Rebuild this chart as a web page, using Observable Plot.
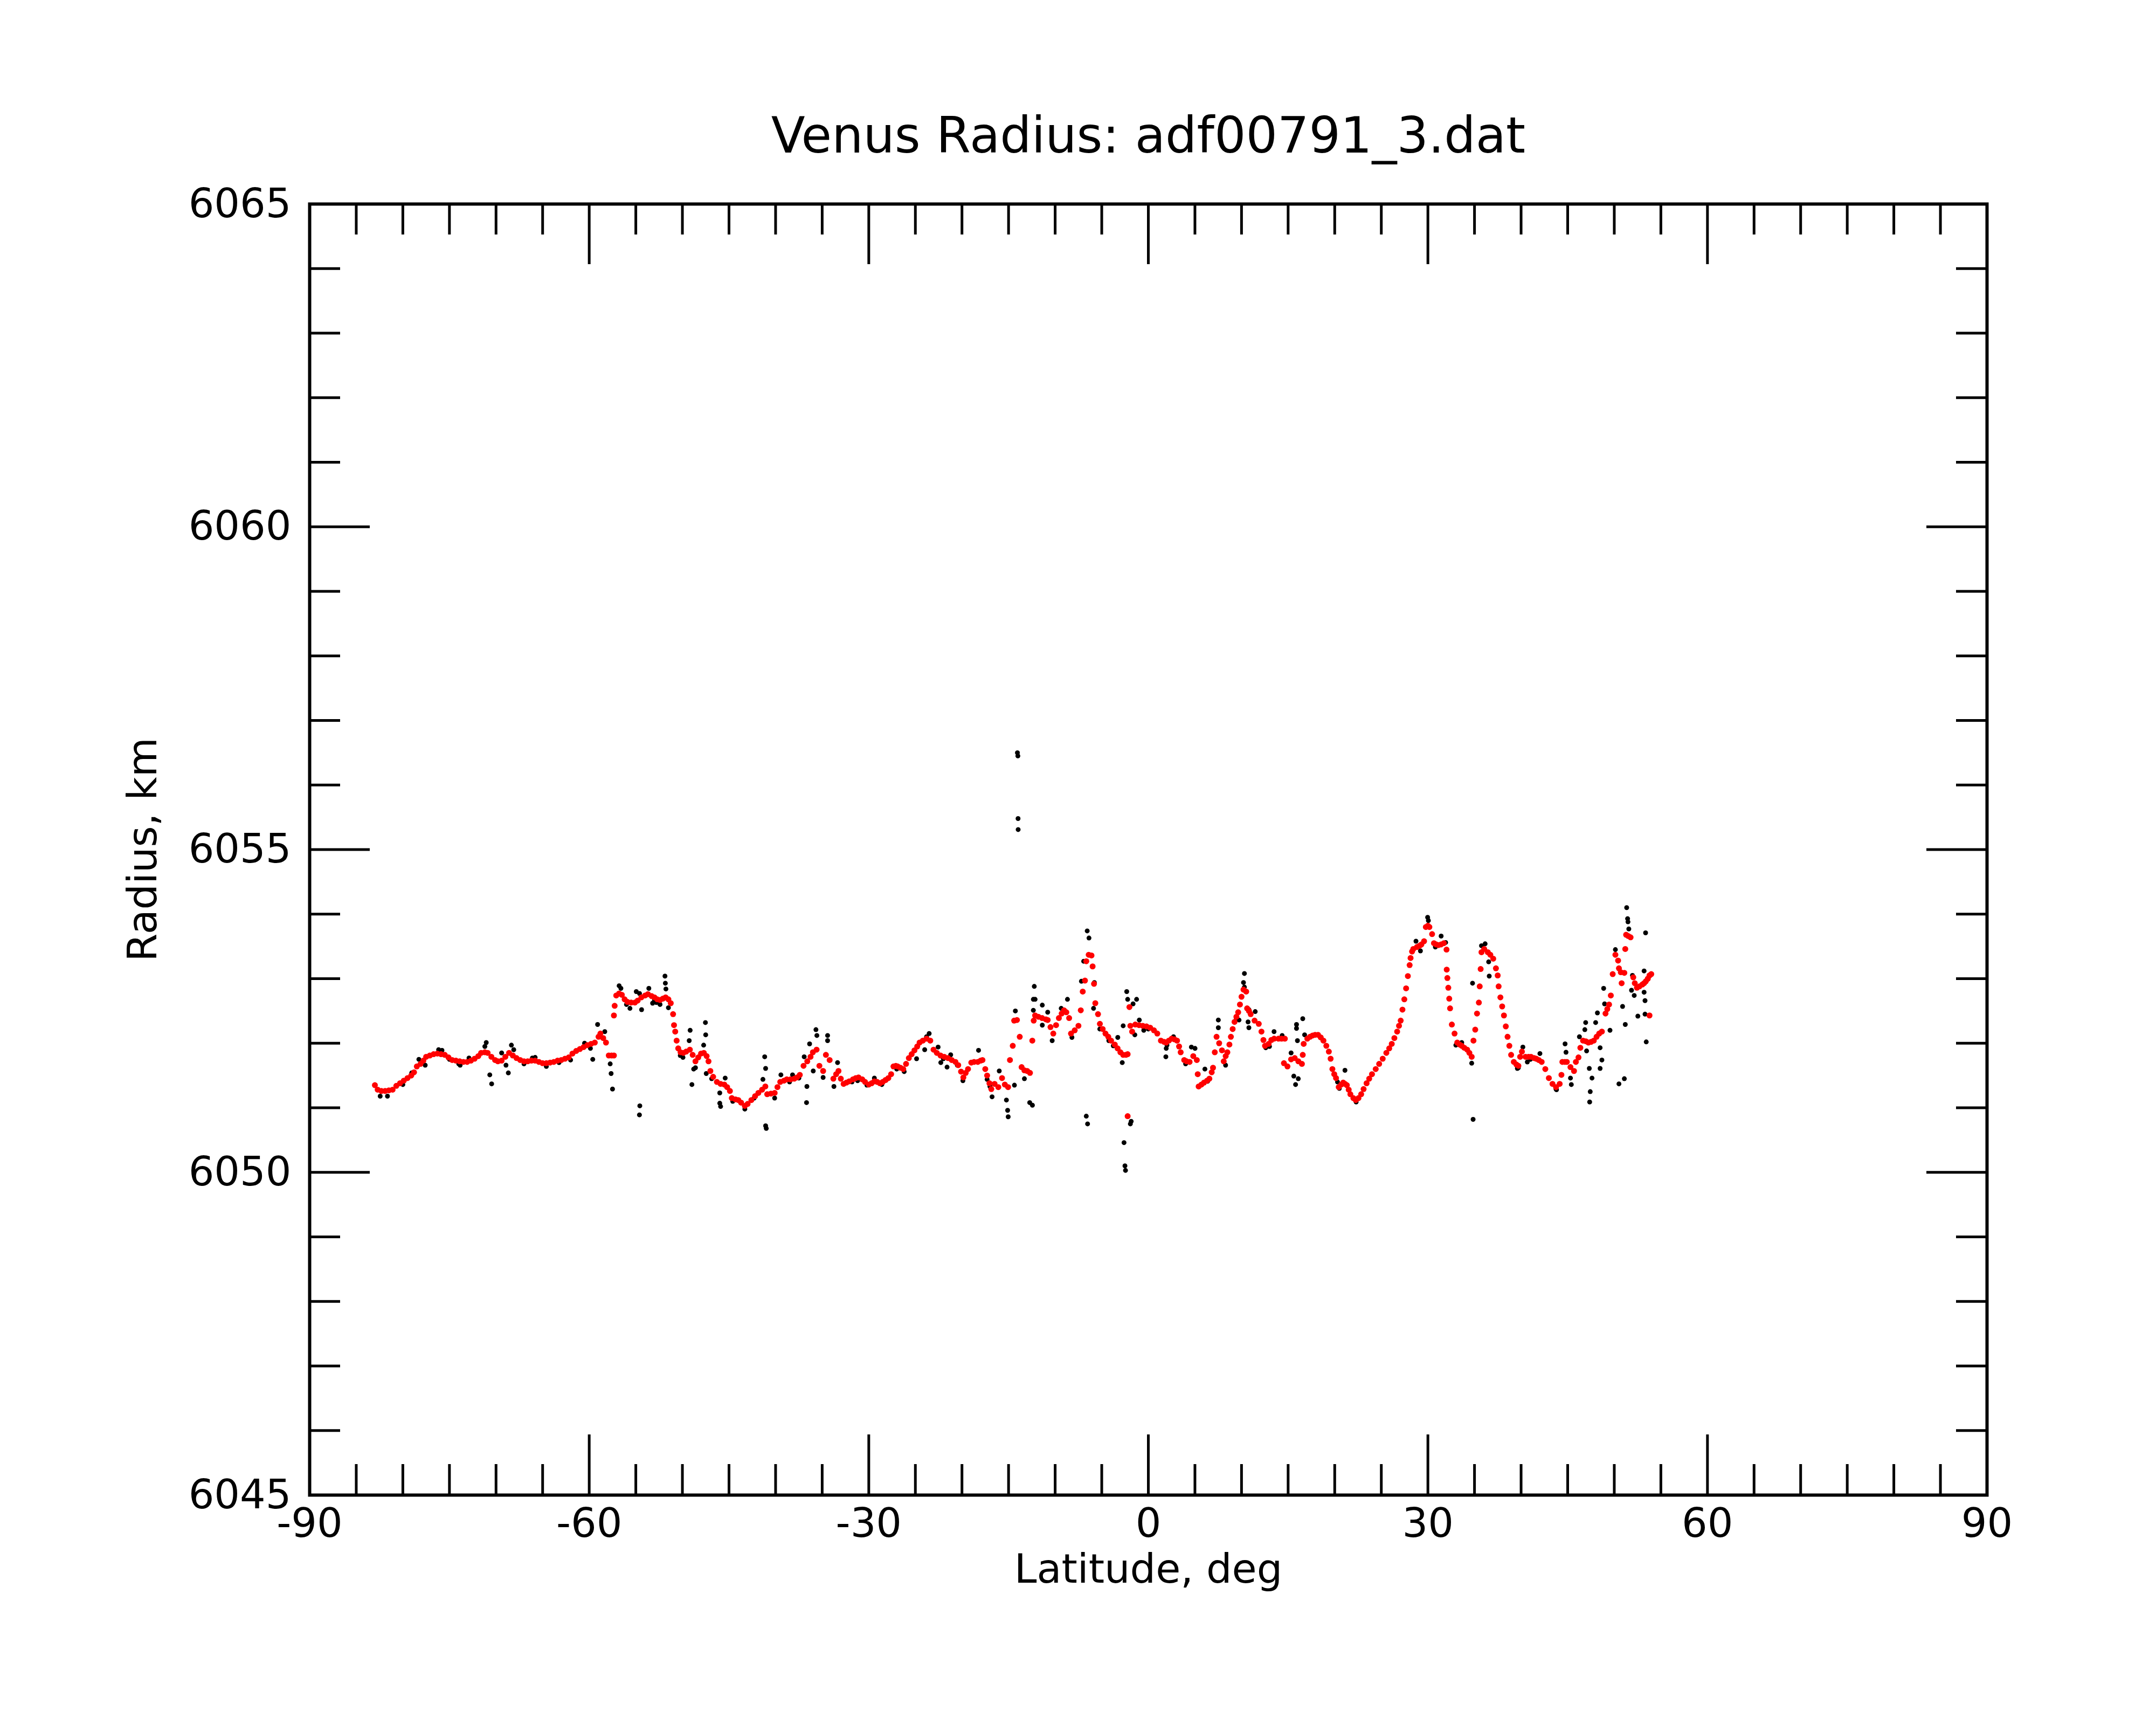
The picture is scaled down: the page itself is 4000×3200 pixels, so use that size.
<!DOCTYPE html>
<html>
<head>
<meta charset="utf-8">
<script src="https://cdn.jsdelivr.net/npm/d3@7"></script>
<script src="https://cdn.jsdelivr.net/npm/@observablehq/plot@0.6"></script>
<style>
  html, body { margin: 0; padding: 0; background: #ffffff; }
  #chart { width: 4000px; height: 3200px; }
</style>
</head>
<body>
<div id="chart"></div>
<script>
// ---- Data: [latitude (deg), radius (km)] ----
const titleText = "Venus Radius: adf00791_3.dat";
const xLabelText = "Latitude, deg";
const yLabelText = "Radius, km";

const xMajorTicks = [-90, -60, -30, 0, 30, 60, 90];
const xMinorTicks = [-85,-80,-75,-70,-65,-55,-50,-45,-40,-35,-25,-20,-15,-10,-5,5,10,15,20,25,35,40,45,50,55,65,70,75,80,85];
const yMajorTicks = [6045, 6050, 6055, 6060, 6065];
const yMinorTicks = [6046,6047,6048,6049,6051,6052,6053,6054,6056,6057,6058,6059,6061,6062,6063,6064];

// smoothed profile (red)
const redPoints = [
[-83.0,6051.35],[-82.7,6051.28],[-82.3,6051.26],[-81.9,6051.26],[-81.5,6051.27],[-81.1,6051.28],[-80.7,6051.34],[-80.3,6051.38],
[-79.9,6051.42],[-79.5,6051.46],[-79.1,6051.50],[-78.8,6051.55],[-78.5,6051.64],[-78.1,6051.68],[-77.8,6051.73],[-77.5,6051.79],
[-77.1,6051.81],[-76.7,6051.83],[-76.3,6051.84],[-75.9,6051.83],[-75.5,6051.82],[-75.1,6051.78],[-74.7,6051.74],[-74.3,6051.73],
[-73.9,6051.72],[-73.5,6051.71],[-73.1,6051.71],[-72.7,6051.73],[-72.3,6051.76],[-71.9,6051.80],[-71.6,6051.85],[-71.2,6051.86],
[-70.9,6051.85],[-70.5,6051.79],[-70.1,6051.74],[-69.8,6051.72],[-69.4,6051.73],[-69.0,6051.79],[-68.6,6051.85],[-68.2,6051.81],
[-67.8,6051.77],[-67.4,6051.74],[-67.0,6051.72],[-66.6,6051.72],[-66.2,6051.73],[-65.8,6051.73],[-65.4,6051.71],[-65.0,6051.69],
[-64.6,6051.69],[-64.2,6051.70],[-63.8,6051.71],[-63.4,6051.73],[-63.0,6051.74],[-62.6,6051.76],[-62.2,6051.78],[-61.8,6051.84],
[-61.4,6051.88],[-61.0,6051.91],[-60.6,6051.94],[-60.2,6051.97],[-59.8,6051.99],[-59.4,6052.01],[-59.0,6052.10],[-58.8,6052.15],
[-58.5,6052.08],[-58.2,6052.01],[-57.9,6051.81],[-57.6,6051.81],[-57.35,6051.81],[-57.35,6052.43],[-57.27,6052.58],[-57.1,6052.74],
[-56.8,6052.77],[-56.5,6052.75],[-56.2,6052.68],[-55.9,6052.64],[-55.5,6052.63],[-55.1,6052.63],[-54.8,6052.66],[-54.4,6052.71],
[-54.0,6052.74],[-53.7,6052.76],[-53.3,6052.73],[-53.0,6052.71],[-52.7,6052.68],[-52.4,6052.67],[-52.1,6052.69],[-51.8,6052.71],
[-51.5,6052.68],[-51.25,6052.62],[-51.0,6052.45],[-50.9,6052.28],[-50.77,6052.18],[-50.62,6052.04],[-50.45,6051.92],[-50.2,6051.86],
[-49.9,6051.85],[-49.6,6051.87],[-49.2,6051.90],[-48.9,6051.82],[-48.6,6051.72],[-48.3,6051.78],[-48.0,6051.84],[-47.7,6051.85],
[-47.4,6051.80],[-47.2,6051.72],[-47.0,6051.57],[-46.7,6051.48],[-46.3,6051.40],[-45.9,6051.37],[-45.5,6051.36],[-45.2,6051.32],
[-44.9,6051.26],[-44.7,6051.15],[-44.3,6051.13],[-44.0,6051.12],[-43.7,6051.08],[-43.3,6051.03],[-43.0,6051.06],[-42.6,6051.12],
[-42.2,6051.18],[-41.85,6051.23],[-41.45,6051.28],[-41.1,6051.33],[-40.9,6051.21],[-40.5,6051.22],[-40.1,6051.23],[-39.8,6051.32],
[-39.5,6051.40],[-39.1,6051.42],[-38.8,6051.44],[-38.4,6051.44],[-38.0,6051.45],[-37.7,6051.47],[-37.4,6051.51],[-37.0,6051.65],
[-36.6,6051.72],[-36.25,6051.79],[-36.0,6051.86],[-35.6,6051.90],[-35.3,6051.65],[-34.9,6051.57],[-34.6,6051.82],[-34.2,6051.74],
[-33.8,6051.45],[-33.5,6051.52],[-33.25,6051.57],[-33.0,6051.45],[-32.7,6051.37],[-32.4,6051.39],[-32.1,6051.41],[-31.7,6051.44],
[-31.4,6051.46],[-31.1,6051.47],[-30.7,6051.44],[-30.4,6051.40],[-30.0,6051.36],[-29.7,6051.38],[-29.4,6051.41],[-29.1,6051.40],
[-28.8,6051.38],[-28.5,6051.40],[-28.2,6051.43],[-27.9,6051.46],[-27.6,6051.52],[-27.35,6051.64],[-27.1,6051.65],[-26.9,6051.64],
[-26.6,6051.62],[-26.3,6051.60],[-26.0,6051.68],[-25.7,6051.77],[-25.4,6051.83],[-25.1,6051.89],[-24.8,6051.95],[-24.55,6052.01],
[-24.2,6052.04],[-23.8,6052.07],[-23.4,6052.04],[-23.05,6051.90],[-22.7,6051.85],[-22.3,6051.81],[-21.9,6051.79],[-21.5,6051.77],
[-21.1,6051.74],[-20.7,6051.71],[-20.4,6051.66],[-20.1,6051.56],[-19.85,6051.47],[-19.6,6051.54],[-19.35,6051.60],[-19.0,6051.70],
[-18.7,6051.71],[-18.3,6051.71],[-18.0,6051.73],[-17.8,6051.74],[-17.5,6051.60],[-17.3,6051.50],[-17.05,6051.38],[-16.85,6051.29],
[-16.5,6051.37],[-16.1,6051.32],[-15.7,6051.46],[-15.4,6051.36],[-15.05,6051.32],[-14.85,6051.74],[-14.55,6051.96],[-14.4,6052.35],
[-14.1,6052.36],[-13.8,6052.10],[-13.6,6051.63],[-13.3,6051.58],[-13.0,6051.57],[-12.7,6051.54],[-12.45,6052.04],[-12.3,6052.35],
[-12.15,6052.43],[-11.8,6052.41],[-11.4,6052.39],[-11.0,6052.37],[-10.8,6052.36],[-10.5,6052.25],[-10.2,6052.15],[-9.9,6052.28],
[-9.6,6052.39],[-9.3,6052.46],[-9.05,6052.51],[-8.8,6052.48],[-8.5,6052.39],[-8.3,6052.15],[-7.9,6052.20],[-7.5,6052.27],
[-7.25,6052.51],[-7.04,6052.80],[-6.8,6052.97],[-6.66,6053.27],[-6.4,6053.37],[-6.1,6053.36],[-5.98,6053.19],[-5.83,6052.92],
[-5.69,6052.62],[-5.4,6052.45],[-5.2,6052.30],[-4.9,6052.22],[-4.6,6052.15],[-4.3,6052.10],[-4.0,6052.04],[-3.6,6051.98],
[-3.3,6051.92],[-3.0,6051.86],[-2.7,6051.82],[-2.4,6051.82],[-2.22,6051.83],[-2.22,6050.87],[-2.03,6052.56],[-1.93,6052.27],
[-1.74,6052.18],[-1.4,6052.29],[-1.0,6052.28],[-0.6,6052.27],[-0.2,6052.26],[0.2,6052.24],[0.6,6052.20],[0.96,6052.15],
[1.35,6052.04],[1.7,6052.02],[1.92,6052.01],[2.2,6052.04],[2.5,6052.07],[2.8,6052.06],[3.08,6052.04],[3.3,6051.95],
[3.47,6051.86],[3.85,6051.74],[4.1,6051.72],[4.43,6051.71],[4.82,6051.80],[5.2,6051.74],[5.3,6051.52],[5.4,6051.33],
[5.7,6051.36],[5.97,6051.39],[6.3,6051.42],[6.55,6051.45],[6.8,6051.55],[6.94,6051.62],[7.13,6051.86],[7.32,6052.10],
[7.6,6052.00],[7.9,6051.89],[8.09,6051.72],[8.3,6051.80],[8.48,6051.86],[8.7,6051.98],[8.86,6052.10],[9.05,6052.22],
[9.25,6052.33],[9.45,6052.41],[9.64,6052.48],[9.83,6052.60],[10.0,6052.72],[10.21,6052.83],[10.5,6052.80],[10.6,6052.54],
[10.8,6052.50],[10.98,6052.45],[11.4,6052.35],[11.85,6052.30],[12.14,6052.18],[12.35,6052.05],[12.52,6051.96],[12.91,6051.99],
[13.2,6052.05],[13.5,6052.07],[13.97,6052.07],[14.3,6052.07],[14.65,6052.07],[14.55,6051.69],[14.93,6051.64],[15.32,6051.75],
[15.71,6051.77],[16.1,6051.72],[16.48,6051.68],[16.57,6051.82],[16.67,6051.99],[17.06,6052.07],[17.35,6052.10],[17.63,6052.12],
[17.9,6052.13],[18.21,6052.13],[18.5,6052.09],[18.79,6052.04],[19.1,6051.96],[19.37,6051.87],[19.56,6051.76],[19.75,6051.60],
[19.95,6051.52],[20.14,6051.46],[20.43,6051.32],[20.7,6051.36],[20.91,6051.39],[21.1,6051.37],[21.3,6051.35],[21.5,6051.28],
[21.68,6051.21],[22.0,6051.15],[22.26,6051.12],[22.55,6051.15],[22.84,6051.21],[23.1,6051.29],[23.42,6051.38],[23.7,6051.45],
[24.0,6051.52],[24.4,6051.60],[24.77,6051.68],[25.15,6051.76],[25.54,6051.85],[25.85,6051.92],[26.12,6051.99],[26.4,6052.08],
[26.7,6052.18],[26.9,6052.27],[27.08,6052.35],[27.27,6052.52],[27.47,6052.68],[27.66,6052.85],[27.85,6053.04],[28.04,6053.21],
[28.14,6053.32],[28.3,6053.42],[28.43,6053.46],[28.82,6053.49],[29.1,6053.51],[29.3,6053.53],[29.59,6053.58],[29.78,6053.80],
[30.0,6053.82],[30.16,6053.80],[30.45,6053.69],[30.65,6053.55],[30.9,6053.53],[31.13,6053.52],[31.4,6053.53],[31.71,6053.55],
[32.0,6053.45],[32.02,6053.14],[32.09,6053.01],[32.19,6052.86],[32.29,6052.69],[32.38,6052.54],[32.57,6052.29],[32.86,6052.15],
[33.15,6052.01],[33.4,6051.98],[33.63,6051.96],[33.9,6051.93],[34.21,6051.90],[34.45,6051.85],[34.7,6051.79],[34.89,6052.04],
[35.08,6052.21],[35.27,6052.46],[35.47,6052.63],[35.56,6052.88],[35.66,6053.15],[35.75,6053.41],[36.04,6053.46],[36.43,6053.41],
[36.7,6053.37],[37.01,6053.31],[37.3,6053.16],[37.49,6053.05],[37.59,6052.88],[37.78,6052.71],[37.97,6052.57],[38.16,6052.43],
[38.36,6052.26],[38.55,6052.10],[38.74,6051.96],[38.93,6051.82],[39.22,6051.71],[39.5,6051.67],[39.71,6051.65],[39.9,6051.79],
[40.09,6051.87],[40.48,6051.79],[40.8,6051.79],[41.06,6051.79],[41.4,6051.77],[41.63,6051.76],[41.9,6051.74],[42.21,6051.71],
[42.6,6051.60],[42.98,6051.46],[43.37,6051.37],[43.75,6051.32],[44.14,6051.37],[44.33,6051.51],[44.43,6051.71],[44.7,6051.71],
[44.91,6051.71],[45.3,6051.63],[45.68,6051.57],[45.88,6051.71],[46.16,6051.78],[46.36,6051.93],[46.65,6052.04],[46.95,6052.03],
[47.22,6052.01],[47.5,6052.02],[47.8,6052.04],[48.1,6052.10],[48.38,6052.15],[48.67,6052.18],[49.06,6052.46],[49.25,6052.53],
[49.44,6052.60],[49.63,6052.74],[49.83,6053.07],[50.12,6053.37],[50.41,6053.28],[50.5,6053.16],[50.7,6053.10],[50.79,6052.93],
[51.08,6053.09],[51.18,6053.46],[51.27,6053.68],[51.5,6053.66],[51.75,6053.64],[52.04,6053.02],[52.2,6052.93],[52.43,6052.86],
[52.7,6052.88],[53.01,6052.91],[53.2,6052.93],[53.39,6052.96],[53.6,6053.00],[53.78,6053.05],[53.97,6053.07],[53.78,6052.43]
];

// raw measurements visible around the profile (black)
const blackPoints = [
[-82.43,6051.18],[-81.65,6051.18],[-80.0,6051.36],[-79.05,6051.54],[-78.28,6051.75],[-77.6,6051.66],[-76.16,6051.90],[-75.8,6051.89],
[-75.0,6051.75],[-74.0,6051.68],[-73.85,6051.66],[-72.9,6051.77],[-71.2,6051.95],[-71.05,6052.01],[-70.67,6051.51],[-70.47,6051.37],
[-69.4,6051.85],[-68.93,6051.66],[-68.68,6051.54],[-68.35,6051.97],[-68.1,6051.90],[-67.0,6051.68],[-66.1,6051.77],[-65.8,6051.78],
[-64.6,6051.64],[-63.24,6051.70],[-62.0,6051.74],[-60.5,6052.00],[-59.87,6051.92],[-59.62,6051.75],[-59.1,6052.29],[-58.33,6052.18],
[-57.75,6051.68],[-57.65,6051.53],[-57.5,6051.29],[-56.79,6052.89],[-56.6,6052.85],[-56.0,6052.60],[-55.63,6052.54],[-54.95,6052.80],
[-54.6,6052.77],[-54.57,6051.03],[-54.61,6050.89],[-54.38,6052.52],[-53.6,6052.85],[-53.2,6052.62],[-53.0,6052.67],[-52.8,6052.63],
[-52.4,6052.60],[-51.87,6053.04],[-51.83,6052.93],[-51.77,6052.84],[-51.5,6052.55],[-50.23,6051.81],[-49.94,6051.78],[-49.27,6052.04],
[-49.17,6052.20],[-48.98,6051.36],[-48.79,6051.60],[-48.6,6051.62],[-47.72,6051.97],[-47.53,6052.32],[-47.5,6052.13],[-47.44,6051.53],
[-46.86,6051.45],[-45.99,6051.23],[-45.99,6051.07],[-45.9,6051.02],[-45.41,6051.46],[-44.6,6051.10],[-43.3,6050.98],[-42.3,6051.15],
[-41.17,6051.79],[-41.07,6051.61],[-41.36,6051.44],[-41.07,6050.72],[-41.0,6050.68],[-40.1,6051.15],[-39.43,6051.51],[-38.5,6051.40],
[-38.18,6051.51],[-37.5,6051.46],[-36.64,6051.33],[-36.68,6051.08],[-36.35,6051.99],[-36.93,6051.79],[-35.67,6052.21],[-35.57,6052.12],
[-34.42,6052.12],[-34.42,6052.04],[-35.96,6051.57],[-34.9,6051.47],[-33.74,6051.33],[-33.35,6051.70],[-31.8,6051.40],[-31.2,6051.42],
[-30.2,6051.35],[-29.4,6051.46],[-28.6,6051.36],[-27.0,6051.60],[-26.2,6051.56],[-24.87,6051.76],[-24.0,6051.90],[-23.8,6052.10],
[-23.52,6052.15],[-22.56,6051.94],[-22.27,6051.70],[-22.0,6051.76],[-21.6,6051.63],[-21.21,6051.82],[-20.5,6051.66],[-19.9,6051.42],
[-18.22,6051.89],[-17.3,6051.44],[-17.0,6051.33],[-16.77,6051.17],[-16.0,6051.57],[-15.23,6051.12],[-15.1,6050.96],[-15.04,6050.86],
[-14.37,6051.35],[-14.27,6052.50],[-14.05,6056.50],[-14.0,6056.45],[-13.98,6055.48],[-13.97,6055.31],[-13.3,6051.45],[-12.73,6051.08],
[-12.44,6051.04],[-12.34,6052.51],[-12.34,6052.68],[-12.24,6052.88],[-12.15,6052.68],[-11.38,6052.59],[-11.38,6052.28],[-10.8,6052.48],
[-10.32,6052.04],[-9.35,6052.54],[-8.68,6052.68],[-8.2,6052.09],[-7.18,6052.96],[-6.94,6053.27],[-6.56,6053.74],[-6.37,6053.63],
[-6.66,6050.87],[-6.52,6050.75],[-5.88,6052.54],[-5.79,6052.94],[-5.21,6052.22],[-4.24,6052.04],[-3.76,6051.96],[-3.28,6052.09],
[-2.8,6051.70],[-2.7,6052.27],[-2.32,6052.80],[-2.22,6052.68],[-2.61,6050.46],[-2.51,6050.10],[-2.45,6050.03],[-1.93,6050.75],
[-1.84,6050.79],[-1.64,6052.61],[-1.26,6052.68],[-1.45,6052.13],[-0.97,6052.36],[-0.49,6052.20],[0.0,6052.22],[1.88,6051.79],
[1.92,6051.92],[2.0,6051.97],[2.7,6052.10],[4.0,6051.68],[4.62,6051.94],[5.01,6051.92],[6.07,6051.60],[6.36,6051.41],
[7.51,6052.36],[7.51,6052.24],[8.29,6051.66],[9.44,6052.39],[9.73,6052.36],[10.21,6052.94],[10.31,6053.08],[10.31,6052.87],
[10.7,6052.33],[10.79,6052.52],[10.79,6052.24],[11.47,6052.49],[12.6,6051.93],[13.0,6051.95],[13.49,6052.18],[14.36,6052.12],
[15.32,6051.85],[15.61,6051.49],[15.8,6051.36],[15.9,6052.29],[15.9,6052.23],[16.0,6052.04],[16.09,6051.45],[16.57,6052.38],
[16.77,6052.13],[19.75,6051.60],[20.3,6051.40],[20.5,6051.30],[21.1,6051.58],[22.3,6051.09],[28.72,6053.58],[29.2,6053.43],
[29.97,6053.95],[30.05,6053.90],[30.8,6053.49],[31.42,6053.66],[31.9,6053.56],[33.0,6051.97],[33.63,6052.01],[34.7,6051.69],
[34.79,6052.93],[34.85,6050.82],[35.75,6053.51],[36.14,6053.54],[36.52,6053.26],[36.58,6053.04],[39.6,6051.61],[39.71,6051.62],
[40.19,6051.94],[40.67,6051.71],[41.0,6051.75],[42.02,6051.84],[43.75,6051.29],[43.8,6051.28],[44.72,6051.99],[44.82,6051.86],
[45.3,6051.46],[45.39,6051.36],[46.26,6052.10],[46.84,6052.21],[46.93,6052.32],[47.03,6051.88],[47.32,6051.61],[47.36,6051.09],
[47.42,6051.25],[47.61,6051.46],[48.0,6052.32],[48.19,6052.47],[48.48,6051.93],[48.48,6051.61],[48.67,6051.74],[48.86,6052.85],
[48.96,6052.61],[49.54,6052.20],[50.12,6053.45],[50.5,6051.37],[50.89,6052.57],[51.08,6051.45],[51.18,6052.29],[51.33,6054.10],
[51.43,6053.93],[51.47,6053.88],[51.56,6053.77],[51.85,6052.82],[51.95,6053.05],[52.14,6052.74],[52.53,6052.42],[53.2,6052.79],
[53.2,6053.12],[53.3,6052.66],[53.3,6052.45],[53.36,6053.71],[53.43,6052.02]
];

// ---- Layout ----
const W = 4000, H = 3200;
const mL = 574, mR = 314, mT = 378, mB = 427;
const fw = W - mL - mR, fh = H - mT - mB;
const majorLen = 112, minorLen = 57;
const tickW = 5;
const font = "DejaVu Sans";

const toObj = p => ({lat: p[0], rad: p[1]});
const red = redPoints.map(toObj);
const black = blackPoints.map(toObj);

const plot = Plot.plot({
  width: W,
  height: H,
  marginLeft: mL, marginRight: mR, marginTop: mT, marginBottom: mB,
  style: {fontFamily: font, background: "#ffffff", color: "#000000", overflow: "visible"},
  x: {domain: [-90, 90], label: null},
  y: {domain: [6045, 6065], label: null},
  marks: [
    // tick marks drawn inward on all four sides
    Plot.tickX(xMajorTicks, {x: d => d, insetTop: fh - majorLen, stroke: "black", strokeWidth: tickW}),
    Plot.tickX(xMinorTicks, {x: d => d, insetTop: fh - minorLen, stroke: "black", strokeWidth: tickW}),
    Plot.tickX(xMajorTicks, {x: d => d, insetBottom: fh - majorLen, stroke: "black", strokeWidth: tickW}),
    Plot.tickX(xMinorTicks, {x: d => d, insetBottom: fh - minorLen, stroke: "black", strokeWidth: tickW}),
    Plot.tickY(yMajorTicks, {y: d => d, insetRight: fw - majorLen, stroke: "black", strokeWidth: tickW}),
    Plot.tickY(yMinorTicks, {y: d => d, insetRight: fw - minorLen, stroke: "black", strokeWidth: tickW}),
    Plot.tickY(yMajorTicks, {y: d => d, insetLeft: fw - majorLen, stroke: "black", strokeWidth: tickW}),
    Plot.tickY(yMinorTicks, {y: d => d, insetLeft: fw - minorLen, stroke: "black", strokeWidth: tickW}),
    // tick labels
    Plot.axisX({anchor: "bottom", ticks: xMajorTicks, tickSize: 0, tickPadding: 24, tickFormat: d => String(d), fontSize: 75, label: null}),
    Plot.axisY({anchor: "left", ticks: yMajorTicks, tickSize: 0, tickPadding: 34, tickFormat: d => String(d), fontSize: 75, label: null}),
    // data
    Plot.dot(black, {x: "lat", y: "rad", r: 4.5, fill: "black", stroke: "none"}),
    Plot.dot(red, {x: "lat", y: "rad", r: 5.5, fill: "#ff0000", stroke: "none"}),
    Plot.frame({stroke: "black", strokeWidth: 6}),
    // titles
    Plot.text([titleText], {text: d => d, frameAnchor: "top", dy: -125, fontSize: 92, lineAnchor: "middle", fill: "black"}),
    Plot.text([xLabelText], {text: d => d, frameAnchor: "bottom", dy: 138, fontSize: 75, lineAnchor: "middle", fill: "black"}),
    Plot.text([yLabelText], {text: d => d, frameAnchor: "left", dx: -309, rotate: -90, textAnchor: "middle", fontSize: 75, lineAnchor: "middle", fill: "black"})
  ]
});
document.getElementById("chart").appendChild(plot);
</script>
</body>
</html>
